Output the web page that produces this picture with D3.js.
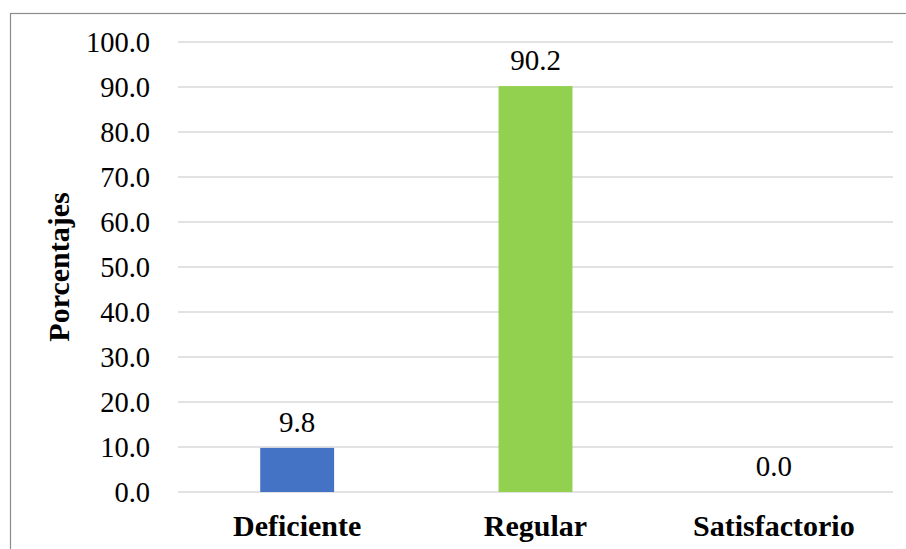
<!DOCTYPE html>
<html>
<head>
<meta charset="utf-8">
<script src="https://cdn.jsdelivr.net/npm/d3@7"></script>
<style>
  html, body { margin: 0; padding: 0; background: #fff; }
  svg { display: block; }
</style>
</head>
<body>
<svg id="chart" width="906" height="549"></svg>
<script>
const categories = ["Deficiente", "Regular", "Satisfactorio"];
const values = [9.8, 90.2, 0.0];
const barColors = ["#4472c4", "#92d050", "#a5a5a5"];
const yTicks = [0, 10, 20, 30, 40, 50, 60, 70, 80, 90, 100];
const yTitle = "Porcentajes";

const svg = d3.select("#chart");
const font = "'Liberation Serif', 'Times New Roman', serif";

// outer chart frame
svg.append("rect")
  .attr("x", 10.5).attr("y", 13.5)
  .attr("width", 1000).attr("height", 1000)
  .attr("fill", "none").attr("stroke", "#8c8c8c").attr("stroke-width", 1.2);

const plotLeft = 178, plotRight = 893, plotTop = 42, plotBottom = 492;

const x = d3.scaleBand().domain(categories).range([plotLeft, plotRight]).paddingInner(0.69).paddingOuter(0.345);
const y = d3.scaleLinear().domain([0, 100]).range([plotBottom, plotTop]);

// gridlines
svg.append("g").selectAll("line").data(yTicks).join("line")
  .attr("x1", plotLeft).attr("x2", plotRight)
  .attr("y1", d => y(d)).attr("y2", d => y(d))
  .attr("stroke", "#d9d9d9").attr("stroke-width", 1.3);

// y axis labels
const yAxis = d3.axisLeft(y).tickValues(yTicks).tickFormat(d3.format(".1f")).tickSize(0).tickPadding(0);
const gy = svg.append("g").attr("transform", `translate(150,0)`).call(yAxis);
gy.select(".domain").remove();
gy.selectAll("text")
  .attr("font-family", font).attr("font-size", 28.5).attr("fill", "#000")
  .attr("dy", "0.34em");

// bars
svg.append("g").selectAll("rect").data(values).join("rect")
  .attr("x", (d, i) => x(categories[i]))
  .attr("width", x.bandwidth())
  .attr("y", d => y(d))
  .attr("height", d => y(0) - y(d))
  .attr("fill", (d, i) => barColors[i]);

// value labels
svg.append("g").selectAll("text").data(values).join("text")
  .attr("x", (d, i) => x(categories[i]) + x.bandwidth() / 2)
  .attr("y", d => y(d) - 16)
  .attr("text-anchor", "middle")
  .attr("font-family", font).attr("font-size", 29).attr("fill", "#000")
  .text(d => d3.format(".1f")(d));

// category labels
const xAxis = d3.axisBottom(x).tickSize(0).tickPadding(0);
const gx = svg.append("g").attr("transform", `translate(0,${plotBottom})`).call(xAxis);
gx.select(".domain").remove();
gx.selectAll("text")
  .attr("font-family", font).attr("font-size", 30).attr("font-weight", "bold").attr("fill", "#000")
  .attr("y", 44).attr("dy", null);

// y axis title
svg.append("text")
  .attr("transform", `translate(69,${(plotTop + plotBottom) / 2}) rotate(-90)`)
  .attr("text-anchor", "middle")
  .attr("font-family", font).attr("font-size", 30).attr("font-weight", "bold")
  .text(yTitle);
</script>
</body>
</html>
